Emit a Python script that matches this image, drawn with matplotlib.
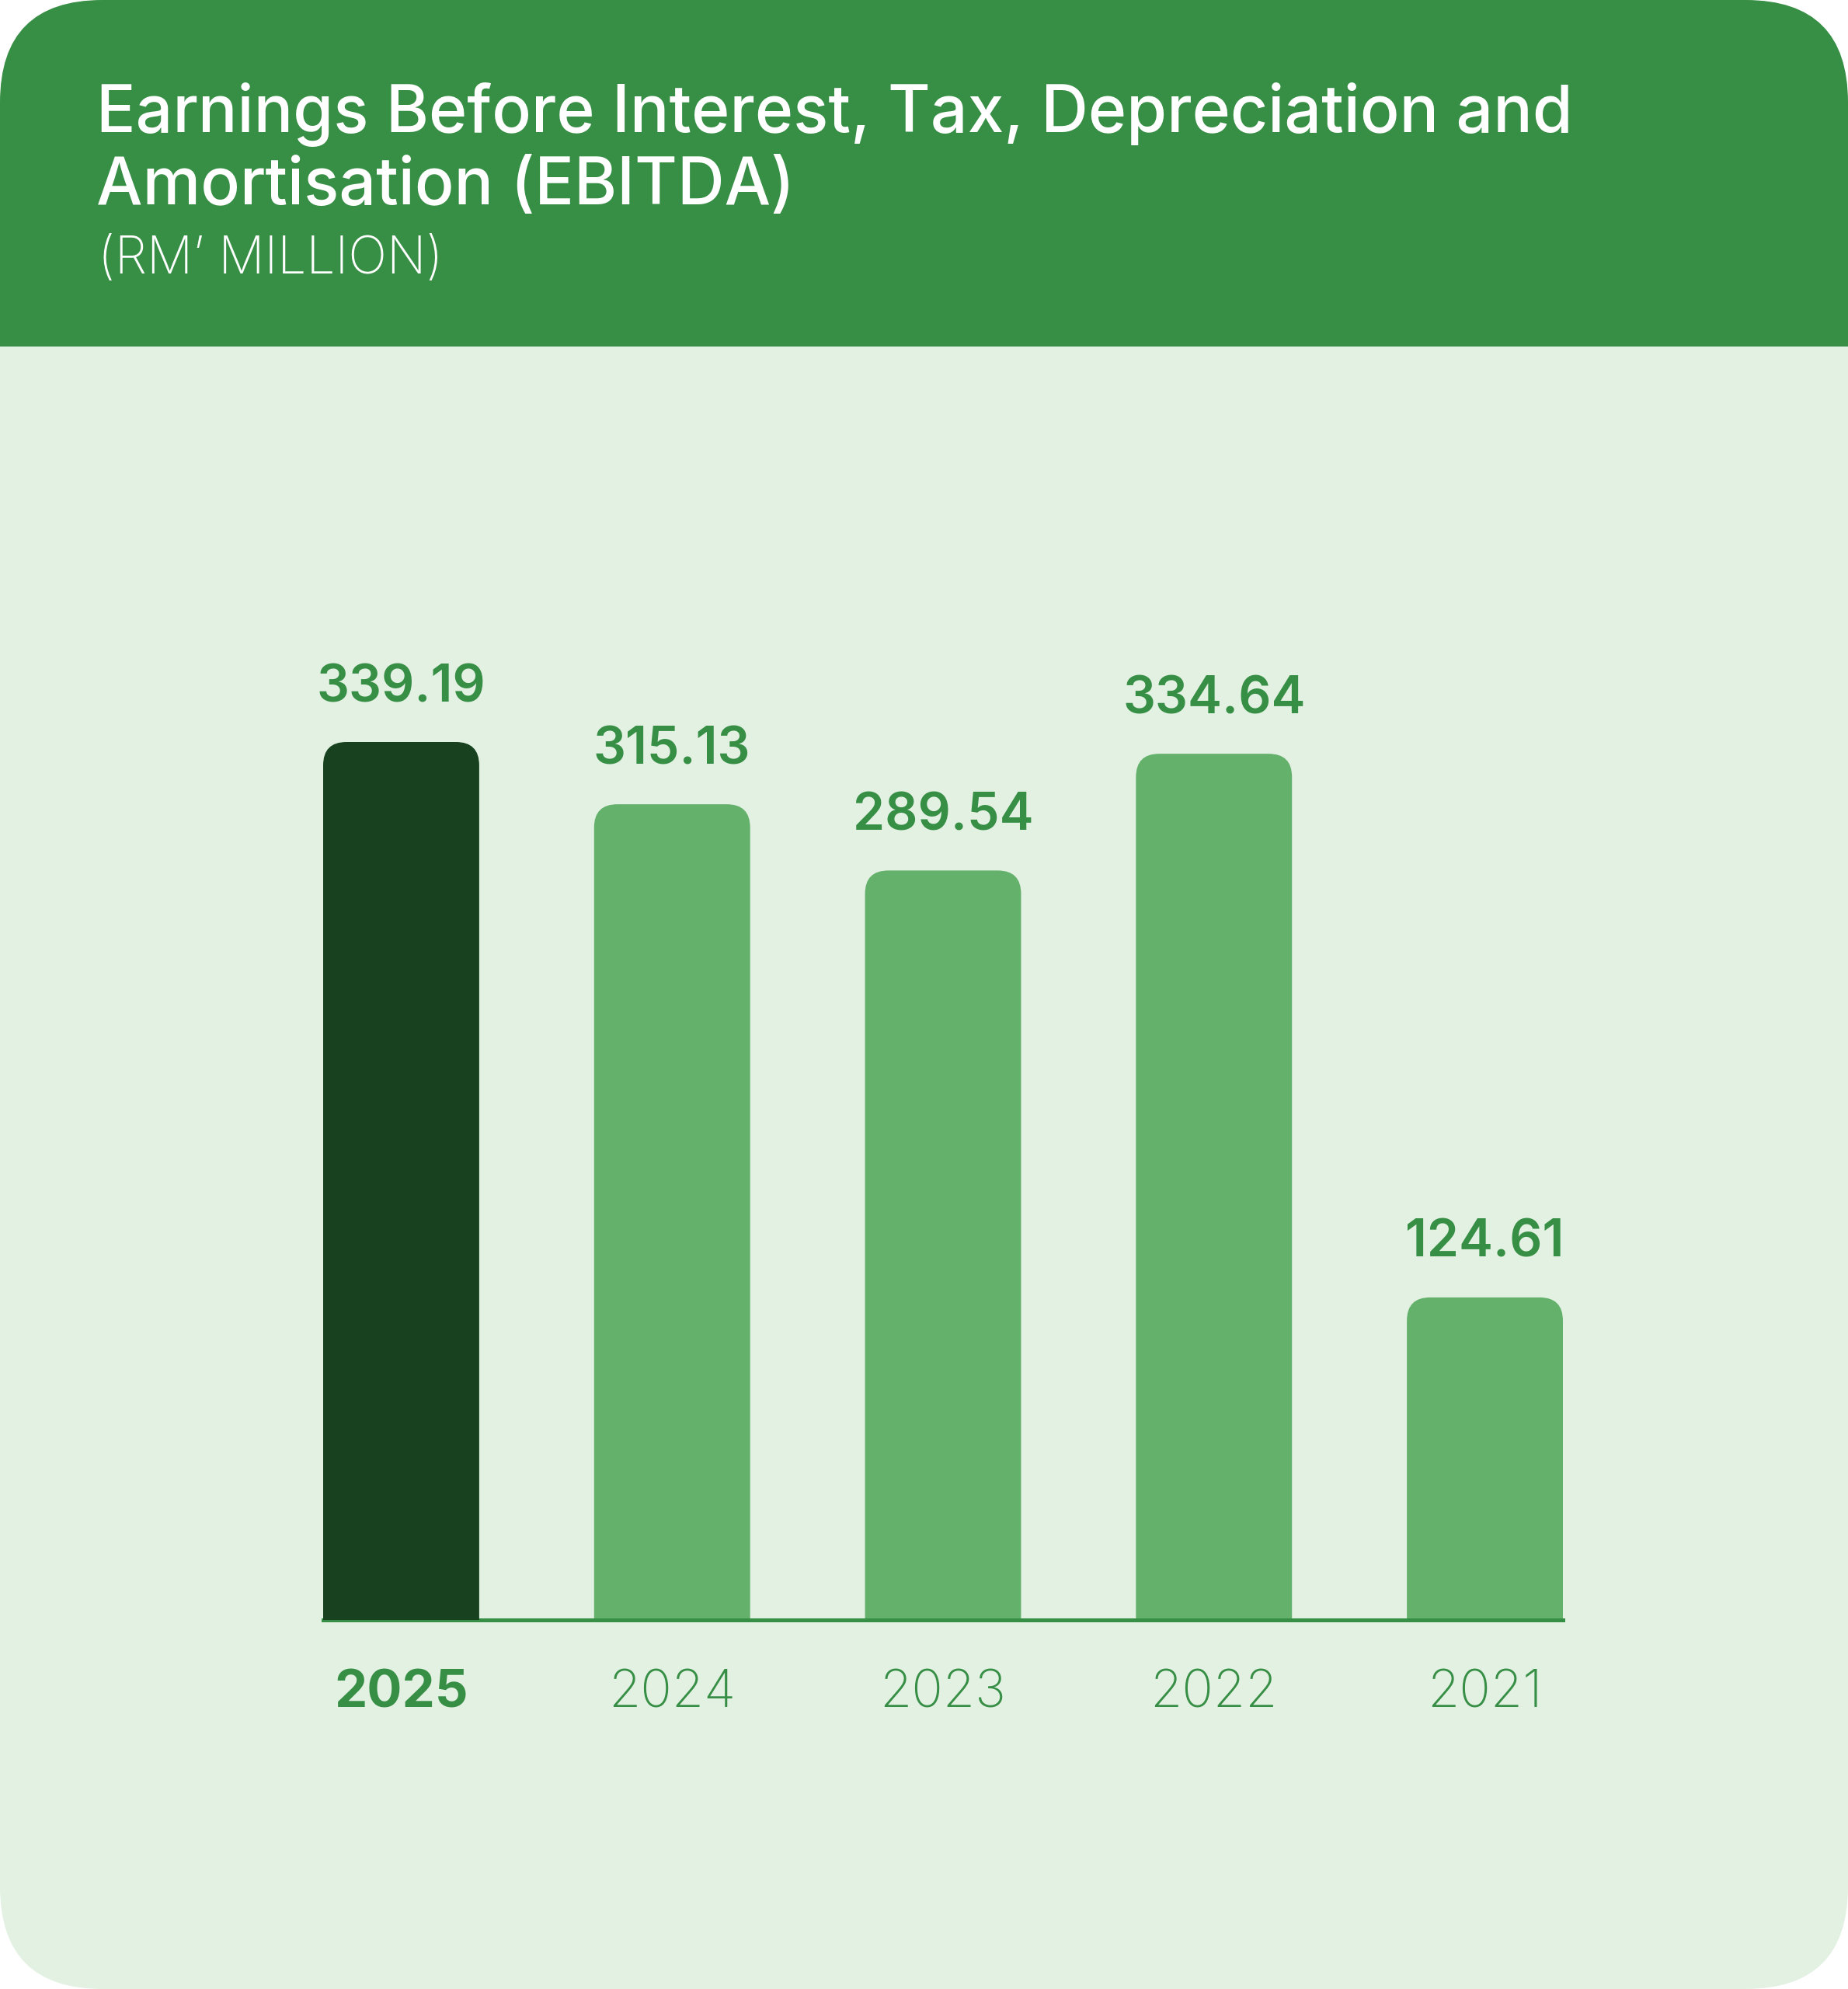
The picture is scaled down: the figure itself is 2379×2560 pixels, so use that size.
import matplotlib
matplotlib.use("Agg")
import matplotlib.pyplot as plt
from matplotlib.patches import FancyBboxPatch, Rectangle
import numpy as np

# data
years = ["2025", "2024", "2023", "2022", "2021"]
ebitda = [339.19, 315.13, 289.54, 334.64, 124.61]

title_lines = ["Earnings Before Interest, Tax, Depreciation and",
               "Amortisation (EBITDA)"]
subtitle = "(RM\u2019 MILLION)"

# colours
HEADER = "#378e45"
BG = "#e3f1e3"
DARK = "#18421f"
LIGHT = "#64b16b"
TEXT = "#378e45"

FONT = ["Inter", "DejaVu Sans"]

W, H = 2379, 2560
DPI = 100


def px(p):
    """pixels -> points"""
    return p * 72 / DPI


fig = plt.figure(figsize=(W / DPI, H / DPI), dpi=DPI)
fig.patch.set_facecolor("white")

# card background in pixel coords
bg = fig.add_axes([0, 0, 1, 1])
bg.set_xlim(0, W)
bg.set_ylim(H, 0)
bg.axis("off")

radius = 132
header_h = 446
card = FancyBboxPatch((0, 0), W, H, boxstyle=f"round,pad=0,rounding_size={radius}",
                      fc=BG, ec="none")
bg.add_patch(card)
header = FancyBboxPatch((0, 0), W, H, boxstyle=f"round,pad=0,rounding_size={radius}",
                        fc=HEADER, ec="none")
bg.add_patch(header)
clip = Rectangle((0, 0), W, header_h, transform=bg.transData)
header.set_clip_path(clip)

# title block
bg.text(124, 170, title_lines[0], color="white", fontsize=px(84),
        fontweight="medium", family=FONT, va="baseline")
bg.text(124, 263, title_lines[1], color="white", fontsize=px(84),
        fontweight="medium", family=FONT, va="baseline")
bg.text(126, 352, subtitle, color="white", fontsize=px(66),
        fontweight="light", family=FONT, va="baseline")

# chart area
left_px, right_px = 416, 2012
base_px, top_px = 2085, 800
bar_top_px = 955  # top of tallest bar
n = len(years)
width = 0.576
x = np.arange(n)

ax = fig.add_axes([left_px / W, (H - base_px) / H,
                   (right_px - left_px) / W, (base_px - top_px) / H])
ax.set_facecolor("none")
ymax = max(ebitda) * (base_px - top_px) / (base_px - bar_top_px)
ax.set_xlim(-width / 2, n - 1 + width / 2)
ax.set_ylim(0, ymax)
for s in ax.spines.values():
    s.set_visible(False)
ax.set_xticks([])
ax.set_yticks([])

xpx = (right_px - left_px) / (n - 1 + width)
ypx = (base_px - top_px) / ymax
r_px = 30
r_x = r_px / xpx
aspect = xpx / ypx

bars = ax.bar(x, ebitda, width=width, color="none")
for i, b in enumerate(bars):
    colour = DARK if i == 0 else LIGHT
    bx, bw, bh = b.get_x(), b.get_width(), b.get_height()
    extra = 2 * r_x * aspect
    patch = FancyBboxPatch((bx, -extra), bw, bh + extra,
                           boxstyle=f"round,pad=0,rounding_size={r_x}",
                           mutation_aspect=aspect, fc=colour, ec="none",
                           zorder=2 if i == 0 else 1)
    ax.add_patch(patch)

ax.axhline(0, color=HEADER, lw=px(5), zorder=1.5, clip_on=False)

for i, (xi, v) in enumerate(zip(x, ebitda)):
    ax.annotate(f"{v:.2f}", (xi, v), xytext=(0, px(52)), textcoords="offset points",
                ha="center", va="baseline", color=TEXT, fontsize=px(66),
                fontweight="semibold", family=FONT)
    ax.annotate(years[i], (xi, 0), xytext=(0, -px(112)), textcoords="offset points",
                ha="center", va="baseline", color=TEXT, fontsize=px(67),
                fontweight="bold" if i == 0 else "light", family=FONT)

fig.savefig("out.png", dpi=DPI, facecolor="white")
